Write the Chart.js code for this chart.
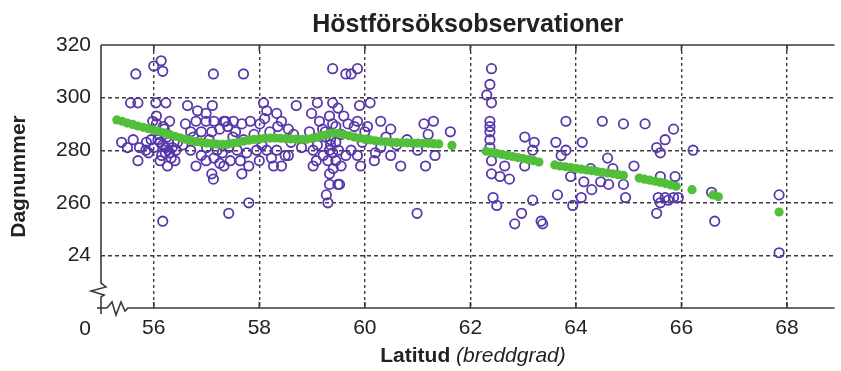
<!DOCTYPE html>
<html>
<head>
<meta charset="utf-8">
<script src="https://cdn.jsdelivr.net/npm/chart.js@4.4.1/dist/chart.umd.min.js"></script>
<style>
  html, body { margin: 0; padding: 0; background: #fff; }
  #wrap { width: 841px; height: 371px; position: relative; }
</style>
</head>
<body>
<div id="wrap"><canvas id="hostChart"></canvas></div>
<script>
// observations: latitude and day number
var obsLat = [
  55.66, 56.00, 56.14, 56.17, 57.13, 55.56, 55.70, 56.04, 56.23, 56.64, 56.83, 56.99, 57.11,
  55.98, 56.30, 56.80, 56.99, 57.14, 57.33, 56.70, 56.90, 57.10, 55.39, 55.61, 55.73, 55.86,
  55.95, 56.08, 56.17, 56.23, 56.42, 56.33, 56.26, 55.70, 56.40, 56.80, 56.99, 57.14, 57.10,
  57.13, 57.25, 57.33, 56.17, 56.10, 56.20, 56.00, 56.30, 56.15, 55.90, 56.05, 56.25, 56.12,
  55.50, 56.55, 56.70, 57.00, 57.20, 56.90, 56.05, 56.18, 56.28, 56.35, 56.12, 56.22, 55.85,
  56.45, 56.60, 56.75, 57.05, 57.25, 57.40, 57.55, 57.30, 57.70,
  57.70, 59.39, 59.64, 58.08, 58.70, 59.10, 59.39, 59.49, 57.36, 57.51, 57.67, 57.83, 58.01,
  58.14, 58.33, 58.42, 58.55, 58.99, 58.95, 59.14, 59.33, 59.39, 59.55, 59.68, 57.42, 57.58,
  57.76, 57.95, 58.14, 58.33, 58.49, 58.23, 57.80, 57.64, 57.45, 57.67, 58.27, 58.42, 58.55,
  59.02, 59.08, 59.21, 59.33, 59.39, 59.45, 59.55, 59.64, 59.02, 59.33, 59.33, 59.52, 59.27,
  59.30, 57.80, 57.42, 57.90, 58.20, 58.60, 58.80, 59.25, 59.45, 58.00, 57.50, 59.20, 59.35,
  58.05, 58.35, 58.65, 58.10, 59.30, 59.40, 59.35, 59.50, 59.25, 59.45, 59.60, 59.10,
  59.74, 59.86, 59.90, 60.10, 59.86, 59.80, 60.05, 60.30, 60.49, 61.12, 61.30, 61.62, 59.74,
  59.86, 59.92, 60.18, 60.49, 60.68, 60.30, 61.15, 61.33, 60.99, 59.95, 60.60, 60.80, 61.00,
  59.49, 60.00, 60.20, 60.40, 61.20,
  62.40, 62.37, 62.31, 62.40, 62.37, 62.37, 62.37, 62.37, 62.37, 63.81, 63.03, 63.21, 63.18,
  63.62, 63.81, 64.12, 63.72, 62.40, 62.65, 62.56, 62.40, 62.74, 63.03, 64.15, 64.10, 63.94,
  62.43, 62.50, 63.18, 63.65, 62.97, 62.84, 63.34, 63.37, 64.50, 64.47, 64.70, 64.60, 63.90,
  64.30,
  64.90, 65.31, 65.85, 65.69, 65.53, 65.60, 66.22, 65.10, 64.28, 64.62, 64.90, 64.94, 65.60,
  65.88, 65.56, 65.69, 65.85, 65.94, 65.60, 65.53, 65.75, 66.63, 66.57, 67.85, 67.85
];
var obsDay = [
  309, 312, 314, 310, 309, 298, 298, 298, 298, 297, 295, 294, 297,
  291, 291, 291, 291, 291, 291, 287, 287, 287, 283, 284, 281, 283,
  284, 284, 282, 281, 280, 277, 274, 276, 276, 274, 276, 277, 271,
  269, 275, 274, 253, 286, 288, 281, 279, 278, 279, 290, 285, 283,
  281, 282, 280, 281, 280, 278, 293, 289, 283, 281, 276, 279, 280,
  283, 290, 285, 284, 288, 289, 287, 279, 284,
  309, 311, 309, 298, 297, 298, 298, 296, 291, 291, 290, 291, 290,
  295, 294, 291, 288, 294, 287, 291, 293, 290, 286, 290, 281, 280,
  279, 280, 280, 280, 278, 277, 274, 276, 276, 271, 274, 274, 278,
  280, 276, 278, 280, 279, 276, 274, 278, 274, 271, 267, 267, 263,
  260, 260, 256, 286, 287, 283, 281, 285, 283, 276, 285, 288, 284,
  282, 289, 286, 292, 276, 273, 282, 280, 287, 289, 293, 282,
  309, 311, 297, 298, 291, 289, 289, 291, 288, 290, 291, 287, 280,
  278, 274, 276, 278, 274, 281, 274, 278, 256, 283, 282, 284, 280,
  267, 287, 279, 285, 286,
  311, 305, 301, 298, 291, 289, 287, 284, 281, 291, 285, 283, 280,
  283, 280, 283, 278, 276, 274, 270, 271, 269, 274, 268, 262, 259,
  262, 259, 261, 263, 256, 252, 253, 252, 291, 268, 273, 277, 270,
  265,
  290, 290, 288, 284, 281, 279, 280, 274, 273, 267, 267, 262, 270,
  270, 262, 262, 262, 262, 260, 256, 261, 253, 264, 263, 241
];

// smoothed trend (green)
var trendLat = [
  55.3, 55.4, 55.5, 55.6, 55.7, 55.8, 55.9, 56.0, 56.1, 56.2, 56.3, 56.4, 56.5, 56.6, 56.7,
  56.8, 56.9, 57.0, 57.1, 57.2, 57.3, 57.4, 57.5, 57.6, 57.7, 57.8, 57.9, 58.0, 58.1, 58.2,
  58.3, 58.4, 58.5, 58.6, 58.7, 58.8, 58.9, 59.0, 59.1, 59.2, 59.3, 59.4, 59.5, 59.6, 59.7,
  59.8, 59.9, 60.0, 60.1, 60.2, 60.3, 60.4, 60.5, 60.6, 60.7, 60.8, 60.9, 61.0, 61.1, 61.2,
  61.3, 61.4, 61.65,
  62.3, 62.4, 62.5, 62.6, 62.7, 62.8, 62.9, 63.0, 63.1, 63.2, 63.3, 63.6, 63.7, 63.8, 63.9,
  64.0, 64.1, 64.2, 64.3, 64.4, 64.5, 64.6, 64.7, 64.8, 64.9, 65.2, 65.3, 65.4, 65.5, 65.6,
  65.7, 65.8, 65.9, 66.2, 66.6, 66.7, 67.85
];
var trendDay = [
  291.5, 291, 290.3, 289.8, 289.2, 288.7, 288.2, 287.7, 287.2, 286.6, 286, 285.3, 284.7, 284.2, 283.7,
  283.3, 283, 282.7, 282.5, 282.3, 282.2, 282.3, 282.6, 283, 283.4, 283.8, 284.1, 284.3, 284.5, 284.6,
  284.6, 284.5, 284.4, 284.3, 284.2, 284.1, 284.2, 284.5, 285, 285.6, 286.1, 286.5, 286.4, 286, 285.5,
  285, 284.6, 284.2, 283.9, 283.6, 283.4, 283.2, 283, 282.9, 282.8, 282.8, 282.7, 282.7, 282.6, 282.6,
  282.5, 282.4, 281.8,
  279.6, 279.2, 278.8, 278.4, 278, 277.6, 277.2, 276.8, 276.4, 276, 275.5, 274.4, 274, 273.7, 273.4,
  273.1, 272.8, 272.5, 272.2, 271.9, 271.6, 271.3, 271, 270.7, 270.4, 269.4, 269, 268.6, 268.2, 267.8,
  267.3, 266.8, 266.3, 265, 263, 262.3, 256.5
];

var xTicks = [56, 58, 60, 62, 64, 66, 68];
var yTicks = [240, 260, 280, 300, 320];
var yTickLabels = ['24', '260', '280', '300', '320'];

var FONT = '"Liberation Sans", Arial, sans-serif';
var INK = '#3a3a3a';

function pts(xs, ys) {
  return xs.map(function (v, i) { return { x: v, y: ys[i] }; });
}

// frame with broken axes, title and axis titles
var framePlugin = {
  id: 'frame',
  afterDraw: function (chart) {
    var ctx = chart.ctx, a = chart.chartArea, xs = chart.scales.x;
    var L = a.left, B = a.bottom;
    ctx.save();
    ctx.strokeStyle = INK;
    ctx.lineWidth = 1.6;
    ctx.lineJoin = 'miter';

    // top border
    ctx.beginPath();
    ctx.moveTo(L, a.top);
    ctx.lineTo(a.right, a.top);
    ctx.stroke();

    // left axis with break
    ctx.beginPath();
    ctx.moveTo(L, a.top);
    ctx.lineTo(L, B - 25);
    ctx.lineTo(L + 5, B - 21);
    ctx.lineTo(L - 10, B - 17);
    ctx.lineTo(L + 3, B - 13);
    ctx.lineTo(L, B - 11);
    ctx.lineTo(L, B + 6);
    ctx.stroke();
    ctx.beginPath();
    ctx.moveTo(L - 4, B);
    ctx.lineTo(L + 6, B);
    ctx.stroke();

    // bottom axis with break
    ctx.beginPath();
    ctx.moveTo(L + 6, B);
    ctx.lineTo(L + 11, B - 6);
    ctx.lineTo(L + 15, B + 7);
    ctx.lineTo(L + 20, B - 6);
    ctx.lineTo(L + 24, B + 3);
    ctx.lineTo(L + 27, B);
    ctx.lineTo(a.right, B);
    ctx.stroke();

    // inner tick marks
    xTicks.forEach(function (v) {
      var px = xs.getPixelForValue(v);
      ctx.beginPath();
      ctx.moveTo(px, B);
      ctx.lineTo(px, B - 6);
      ctx.moveTo(px, a.top);
      ctx.lineTo(px, a.top + 6);
      ctx.stroke();
    });

    // "0" at the foot of the value axis
    ctx.fillStyle = '#222';
    ctx.font = '21px ' + FONT;
    ctx.textAlign = 'right';
    ctx.textBaseline = 'alphabetic';
    ctx.fillText('0', L - 10, B + 27);

    // title
    ctx.font = 'bold 25px ' + FONT;
    ctx.textAlign = 'center';
    ctx.fillText('Höstförsöksobservationer', (L + a.right) / 2, 32);

    // x title: bold word + italic unit
    var w1txt = 'Latitud ', w2txt = '(breddgrad)';
    ctx.font = 'bold 21px ' + FONT;
    var w1 = ctx.measureText(w1txt).width;
    ctx.font = 'italic 21px ' + FONT;
    var w2 = ctx.measureText(w2txt).width;
    var x0 = 473 - (w1 + w2) / 2;
    ctx.textAlign = 'left';
    ctx.font = 'bold 21px ' + FONT;
    ctx.fillText(w1txt, x0, 362);
    ctx.font = 'italic 21px ' + FONT;
    ctx.fillText(w2txt, x0 + w1, 362);

    // y title
    ctx.translate(19, (a.top + B) / 2);
    ctx.rotate(-Math.PI / 2);
    ctx.font = 'bold 21px ' + FONT;
    ctx.textAlign = 'center';
    ctx.textBaseline = 'middle';
    ctx.fillText('Dagnummer', 0, 0);
    ctx.restore();
  }
};

var ctx = document.getElementById('hostChart').getContext('2d');
var chart = new Chart(ctx, {
  type: 'scatter',
  data: {
    datasets: [{
      // drawn on top of the observations
      label: 'Trend',
      data: pts(trendLat, trendDay),
      pointRadius: 4.6,
      pointBackgroundColor: '#52bf3a',
      pointBorderWidth: 0
    }, {
      label: 'Observationer',
      data: pts(obsLat, obsDay),
      pointRadius: 4.7,
      pointBackgroundColor: 'rgba(0,0,0,0)',
      pointBorderColor: '#5738ab',
      pointBorderWidth: 1.8
    }]
  },
  options: {
    responsive: true,
    maintainAspectRatio: false,
    animation: false,
    layout: { padding: { top: 45, left: 0, right: 0, bottom: 0 } },
    plugins: {
      legend: { display: false },
      title: { display: false },
      tooltip: { enabled: false }
    },
    scales: {
      x: {
        type: 'linear',
        min: 55,
        max: 68.9,
        afterBuildTicks: function (axis) {
          axis.ticks = xTicks.map(function (v) { return { value: v }; });
        },
        afterFit: function (scale) { scale.height = 63; },
        grid: {
          drawTicks: false,
          color: '#3c3c3c',
          lineWidth: 1.4
        },
        border: { display: false, dash: [3, 3] },
        ticks: {
          padding: 8,
          color: '#222',
          font: { family: FONT, size: 21 }
        }
      },
      y: {
        type: 'linear',
        min: 220,
        max: 320,
        afterBuildTicks: function (axis) {
          axis.ticks = yTicks.map(function (v) { return { value: v }; });
        },
        afterFit: function (scale) { scale.width = 101; },
        grid: {
          drawTicks: false,
          lineWidth: 1.4,
          color: function (c) {
            return c.tick && c.tick.value === 320 ? 'rgba(0,0,0,0)' : '#3c3c3c';
          }
        },
        border: { display: false, dash: [4, 3] },
        ticks: {
          padding: 10,
          color: '#222',
          font: { family: FONT, size: 21 },
          callback: function (value) {
            var i = yTicks.indexOf(value);
            return i >= 0 ? yTickLabels[i] : '';
          }
        }
      }
    }
  },
  plugins: [framePlugin]
});
</script>
</body>
</html>
